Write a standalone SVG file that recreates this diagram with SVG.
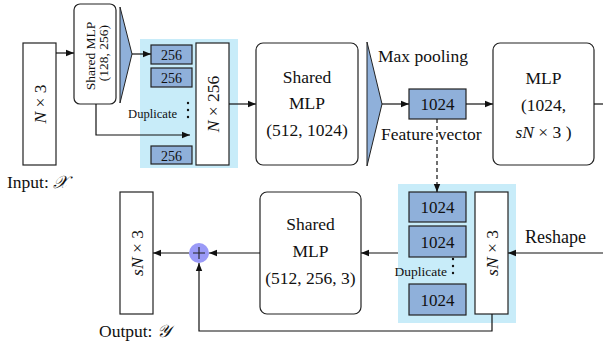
<svg xmlns="http://www.w3.org/2000/svg" width="603" height="345" viewBox="0 0 603 345">
<defs>
<marker id="ah" viewBox="0 0 10 10" refX="10" refY="5" markerWidth="8" markerHeight="8" markerUnits="userSpaceOnUse" orient="auto">
<path d="M0,1 L10,5 L0,9 Z" fill="#111"/>
</marker>
<style>
text{font-family:"Liberation Serif","Times New Roman",serif;fill:#111}
.box{fill:#fff;stroke:#222;stroke-width:1.2}
.blk{fill:#8fb0da;stroke:#222;stroke-width:1.2}
.bg{fill:#c8ecf9}
.tri{fill:#8fb0da;stroke:#222;stroke-width:1}
.ln{fill:none;stroke:#111;stroke-width:1.2}
.m{font-size:17.5px}
.c{text-anchor:middle}
.i{font-style:italic}
</style>
</defs>

<g id="input">
<rect class="box" x="23" y="43" width="33" height="122"/>
<text class="m c" transform="translate(45.5,104) rotate(-90)"><tspan class="i">N</tspan> × 3</text>
<text class="m" x="7" y="188">Input: <tspan class="i">𝒳</tspan></text>
</g>

<g id="mlp1">
<rect class="box" x="74" y="4" width="42" height="100" rx="6"/>
<text class="c" style="font-size:13.5px" transform="translate(94.5,56) rotate(-90)">Shared MLP</text>
<text class="c" style="font-size:13.5px" transform="translate(108,53) rotate(-90)">(128, 256)</text>
</g>

<g id="pool1">
<polygon class="tri" points="120,7 132,54 120,103"/>
</g>

<g id="dup1">
<rect class="bg" x="140" y="39" width="98" height="129"/>
<rect class="blk" x="151" y="45" width="41" height="19"/>
<text class="c" style="font-size:14px" x="171.5" y="60">256</text>
<rect class="blk" x="151" y="68" width="41" height="19"/>
<text class="c" style="font-size:14px" x="171.5" y="83">256</text>
<rect class="blk" x="151" y="146" width="41" height="18"/>
<text class="c" style="font-size:14px" x="171.5" y="160.5">256</text>
<text style="font-size:12.6px;text-anchor:end" x="177" y="118">Duplicate</text>
<circle cx="188" cy="103" r="1.2" fill="#111"/>
<circle cx="188" cy="110" r="1.2" fill="#111"/>
<circle cx="188" cy="117" r="1.2" fill="#111"/>
<rect class="box" x="196" y="43" width="33" height="122"/>
<text class="m c" transform="translate(218.5,104) rotate(-90)"><tspan class="i">N</tspan> × 256</text>
</g>

<g id="mlp2">
<rect class="box" x="256" y="43" width="102" height="122" rx="7"/>
<text class="m c" x="307" y="83">Shared</text>
<text class="m c" x="307" y="109">MLP</text>
<text class="m c" x="307" y="136">(512, 1024)</text>
</g>

<g id="maxpool">
<polygon class="tri" points="367,42 382,104 367,166"/>
<text class="m" x="378" y="62">Max pooling</text>
<text class="m" x="381" y="140">Feature vector</text>
</g>

<g id="feat">
<rect class="blk" x="409" y="89" width="57" height="30"/>
<text class="c" style="font-size:17px" x="437.5" y="110">1024</text>
</g>

<g id="mlp3">
<rect class="box" x="493" y="43" width="101" height="122" rx="7"/>
<text class="m c" x="543.5" y="84">MLP</text>
<text class="m c" x="543.5" y="111">(1024,</text>
<text class="m c" x="543.5" y="138"><tspan class="i">sN</tspan> × 3 )</text>
</g>

<g id="dup2">
<rect class="bg" x="398" y="184" width="118" height="139"/>
<rect class="blk" x="409" y="192" width="57" height="30"/>
<text class="c" style="font-size:17px" x="437.5" y="213">1024</text>
<rect class="blk" x="409" y="226" width="57" height="31"/>
<text class="c" style="font-size:17px" x="437.5" y="247.5">1024</text>
<rect class="blk" x="409" y="284" width="57" height="31"/>
<text class="c" style="font-size:17px" x="437.5" y="305.5">1024</text>
<text style="font-size:13.5px;text-anchor:end" x="447" y="276">Duplicate</text>
<circle cx="453" cy="259" r="1.2" fill="#111"/>
<circle cx="453" cy="266" r="1.2" fill="#111"/>
<circle cx="453" cy="273" r="1.2" fill="#111"/>
<rect class="box" x="475" y="192" width="33" height="122"/>
<text class="m c" transform="translate(497.5,253) rotate(-90)"><tspan class="i">sN</tspan> × 3</text>
<text style="font-size:18px" x="525" y="243">Reshape</text>
</g>

<g id="mlp4">
<rect class="box" x="260" y="192" width="101" height="122" rx="7"/>
<text class="m c" x="310.5" y="230">Shared</text>
<text class="m c" x="310.5" y="257">MLP</text>
<text class="m c" x="310.5" y="284">(512, 256, 3)</text>
</g>

<g id="sum">
<circle cx="199" cy="253" r="10" fill="#9a9af7"/>
<path d="M193,253 H205 M199,247 V259" stroke="#222" stroke-width="1.1"/>
</g>

<g id="output">
<rect class="box" x="120" y="192" width="33" height="122"/>
<text class="m c" transform="translate(142.5,253) rotate(-90)"><tspan class="i">sN</tspan> × 3</text>
<text class="m" x="99" y="337">Output: <tspan class="i">𝒴</tspan></text>
</g>

<g id="connectors">
<line class="ln" x1="56" y1="53" x2="74" y2="53" marker-end="url(#ah)"/>
<line class="ln" x1="132" y1="54" x2="151" y2="54" marker-end="url(#ah)"/>
<polyline class="ln" points="96,104 96,135 190,135" marker-end="url(#ah)"/>
<line class="ln" x1="229" y1="104" x2="256" y2="104" marker-end="url(#ah)"/>
<line class="ln" x1="382" y1="104" x2="409" y2="104" marker-end="url(#ah)"/>
<line class="ln" x1="466" y1="104" x2="493" y2="104" marker-end="url(#ah)"/>
<line class="ln" x1="594" y1="104" x2="603" y2="104"/>
<line class="ln" x1="437" y1="119" x2="437" y2="192" stroke-dasharray="4,3" marker-end="url(#ah)"/>
<line class="ln" x1="603" y1="253" x2="508" y2="253" marker-end="url(#ah)"/>
<line class="ln" x1="398" y1="253" x2="361" y2="253" marker-end="url(#ah)"/>
<line class="ln" x1="260" y1="253" x2="209" y2="253" marker-end="url(#ah)"/>
<line class="ln" x1="189" y1="253" x2="153" y2="253" marker-end="url(#ah)"/>
<polyline class="ln" points="492,314 492,331 199,331 199,263" marker-end="url(#ah)"/>
</g>
</svg>
